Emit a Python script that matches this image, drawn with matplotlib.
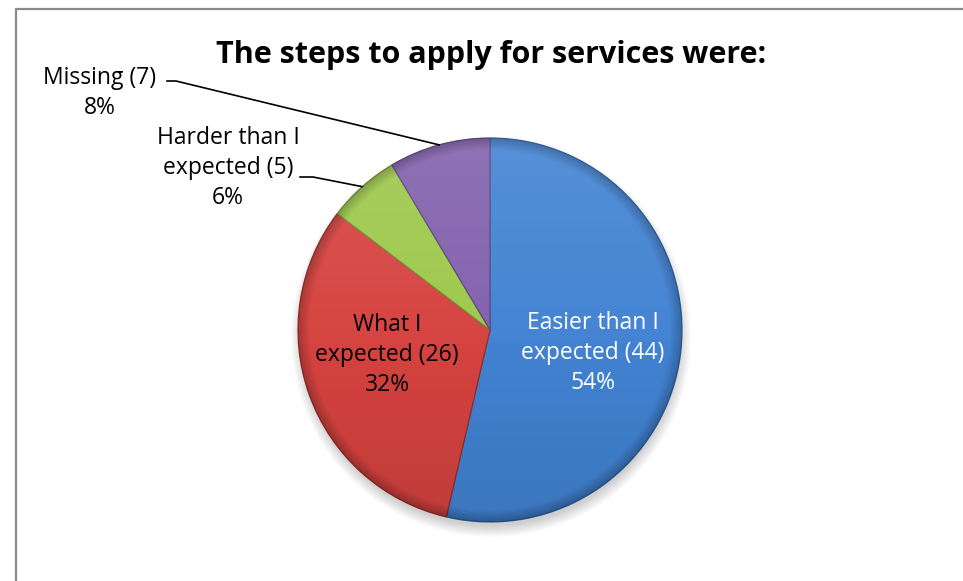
import numpy as np
import matplotlib.pyplot as plt
from matplotlib.patches import Circle

# survey answers, clockwise from 12 o'clock
categories = ['Easier than I\nexpected', 'What I\nexpected', 'Harder than I\nexpected', 'Missing']
counts = [44, 26, 5, 7]
pct_labels = ['54%', '32%', '6%', '8%']
colors = ['#4283d3', '#d64340', '#9ec84c', '#8261ad']
edges = ['#2f5f9c', '#9a2d2b', '#6f8f33', '#5b4580']

plt.rcParams['font.family'] = ['Open Sans', 'DejaVu Sans']

W, H = 963, 581
fig = plt.figure(figsize=(W / 100, H / 100), dpi=100)
ax = fig.add_axes([0, 0, 1, 1])

# chart frame (only top and left edges fall inside the image)
ax.plot([15.5, 15.5, W], [0, H - 8.5, H - 8.5], color='#8a8a8a', lw=1.6, solid_capstyle='butt')

cx, cy, R = 490, H - 330, 192

# soft drop shadow, mostly below the pie
for k in range(12):
    ax.add_patch(Circle((cx + 1, cy - 7), R + 8 - k, color='black', alpha=0.016, lw=0, zorder=1))

wedges, _ = ax.pie(counts, colors=colors, startangle=90, counterclock=False,
                   center=(cx, cy), radius=R, frame=True,
                   wedgeprops=dict(linewidth=0.9, zorder=2))
for w, ec in zip(wedges, edges):
    w.set_edgecolor(ec)

# bevel shading over the pie: light from the top, darker toward the bottom and the rim
n = 400
yy, xx = np.mgrid[1:-1:n * 1j, -1:1:n * 1j]
rr = np.sqrt(xx ** 2 + yy ** 2)
light = np.zeros((n, n, 4))
light[..., :3] = 1.0
light[..., 3] = np.clip(0.09 * (yy + 0.2), 0, None)
dark = np.zeros((n, n, 4))
dark[..., 3] = np.clip(-0.10 * yy, 0, None) + np.clip((rr - 0.94) / 0.06, 0, 1) * 0.22
clip = Circle((cx, cy), R, transform=ax.transData)
for layer in (light, dark):
    img = ax.imshow(layer, extent=(cx - R, cx + R, cy - R, cy + R), zorder=3,
                    interpolation='bilinear', aspect='auto')
    img.set_clip_path(clip)
ax.set_xlim(0, W)
ax.set_ylim(0, H)
ax.axis('off')

ax.text(491, H - 55, 'The steps to apply for services were:', ha='center', va='center',
        fontsize=22, fontweight='bold', color='black')

fs = 16.5
ls = 1.36
# inside labels
ax.text(593, H - 353, f'{categories[0]} ({counts[0]})\n{pct_labels[0]}', ha='center', va='center',
        fontsize=fs, color='white', linespacing=ls, zorder=5)
ax.text(387, H - 355, f'{categories[1]} ({counts[1]})\n{pct_labels[1]}', ha='center', va='center',
        fontsize=fs, color='black', linespacing=ls, zorder=5)

# outside labels with leader lines to the wedge middles
total = sum(counts)
starts = np.cumsum([0] + counts[:-1])
mid_deg = [90 - (s + c / 2) / total * 360 for s, c in zip(starts, counts)]


def leader(i, x0, x1, y):
    a = np.radians(mid_deg[i])
    ex, ey = cx + R * np.cos(a), cy + R * np.sin(a)
    ax.plot([x0, x1, ex], [H - y, H - y, ey], color='black', lw=1.2, zorder=5)


ax.text(228, H - 168, f'{categories[2]} ({counts[2]})\n{pct_labels[2]}', ha='center', va='center',
        fontsize=fs, color='black', linespacing=ls)
leader(2, 300, 313, 177)

ax.text(100, H - 93, f'{categories[3]} ({counts[3]})\n{pct_labels[3]}', ha='center', va='center',
        fontsize=fs, color='black', linespacing=ls)
leader(3, 167, 176, 81)

fig.savefig('out.png', dpi=100)
